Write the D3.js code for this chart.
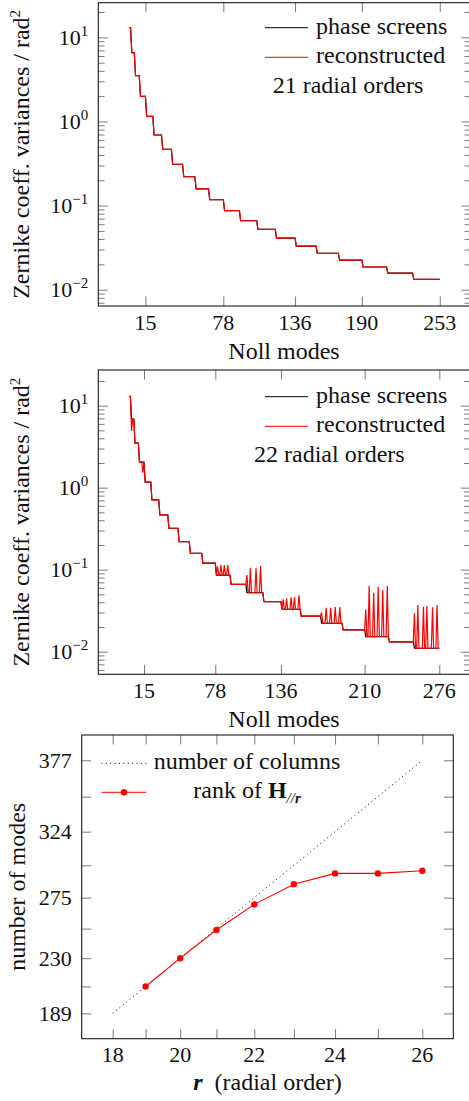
<!DOCTYPE html>
<html>
<head>
<meta charset="utf-8">
<script src="https://cdn.jsdelivr.net/npm/d3@7"></script>
<style>
  body { margin: 0; background: #fff; }
  .tick line { stroke: #7a7a7a; stroke-width: 1; }
  .frame { fill: none; stroke: #1a1a1a; stroke-width: 1.1; }
</style>
</head>
<body>
<div id="chart"></div>
<script>
// x tick values (Noll mode numbers) of the two variance plots
const nollTicks21 = [15, 78, 136, 190, 253];
const nollTicks22 = [15, 78, 136, 210, 276];
const decades = [1e-2, 1e-1, 1e0, 1e1];

// variance level of each radial order n = 1..21
const screens21 = [13.0, 6.6, 3.5, 1.99, 1.15, 0.69, 0.465, 0.31, 0.22, 0.158, 0.118,
    0.087, 0.066, 0.052, 0.041, 0.033, 0.027, 0.0225, 0.0186, 0.0157, 0.0133];
const recon21 = [13.0, 6.6, 3.5, 1.99, 1.15, 0.69, 0.465, 0.31, 0.22, 0.158, 0.118,
    0.087, 0.066, 0.052, 0.041, 0.033, 0.027, 0.0225, 0.0186, 0.0157, 0.0133];

// same for n = 1..22
const screens22 = [13.0, 6.86, 3.5, 2.05, 1.17, 0.708, 0.465, 0.32, 0.22, 0.158, 0.12,
    0.086, 0.066, 0.0524, 0.0407, 0.0329, 0.0272, 0.0222, 0.0184, 0.0152, 0.0132, 0.011];
// modes where the 22-order reconstruction leaves the phase screen level
const spikeModes22 = [4, 14, 80, 83, 86, 89, 106, 109, 114, 118, 138, 141, 145, 148, 152,
    172, 176, 180, 184, 188, 211, 214, 218, 222, 226, 230, 254, 257, 262, 265, 270, 274];
const spikeValues22 = [4.9, 1.52, 0.11, 0.114, 0.114, 0.114, 0.086, 0.104, 0.104, 0.111,
    0.0436, 0.0448, 0.046, 0.046, 0.0487, 0.030, 0.0344, 0.0344, 0.035, 0.035,
    0.0329, 0.063, 0.0524, 0.062, 0.0565, 0.063, 0.0294, 0.037, 0.0354, 0.036, 0.0348, 0.037];

// rank plot
const radialOrders = [18, 19, 20, 21, 22, 23, 24, 25, 26];
const numColumns = [189, 209, 230, 252, 275, 299, 324, 350, 377];
const rankOrders = [19, 20, 21, 22, 23, 24, 25, 26];
const rankValues = [209, 230, 251, 270, 285, 293, 293, 295];

const width = 469;
const height = 1101;
const tickLen = 9.5;
const minorLen = 6.3;
const fontSize = 22;
const textSize = 24;

const svg = d3.select("#chart")
    .append("svg")
    .attr("width", width)
    .attr("height", height)
    .style("display", "block");

// Noll ordering: radial order n covers modes n(n+1)/2+1 .. (n+1)(n+2)/2
const toModes = levels => levels.flatMap((v, i) => {
    const n = i + 1;
    return d3.range(n * (n + 1) / 2 + 1, (n + 1) * (n + 2) / 2 + 1).map(m => [m, v]);
});

const applySpikes = (points, modes, values) => points.map(([m, v]) => {
    const k = modes.indexOf(m);
    return [m, k < 0 ? v : values[k]];
});

const addText = (x, y, anchor, size = fontSize) => svg.append("text")
    .attr("font-family", "Liberation Serif")
    .attr("font-size", size)
    .attr("fill", "#111")
    .attr("x", x)
    .attr("y", y)
    .attr("text-anchor", anchor);

const addPower = (x, y, exp) => {
    const t = addText(x, y, "end");
    t.append("tspan").text("10");
    t.append("tspan").attr("dy", -9).attr("font-size", 15).text(exp);
};

const addAxisTicks = (axis, transform) => {
    const g = svg.append("g").attr("transform", transform).call(axis);
    g.select(".domain").remove();
    g.selectAll("text").remove();
};

const addYLabel = (x, y, fn) => {
    const t = svg.append("text")
        .attr("font-family", "Liberation Serif")
        .attr("font-size", textSize)
        .attr("fill", "#111")
        .attr("transform", `translate(${x},${y}) rotate(-90)`)
        .attr("text-anchor", "middle");
    fn(t);
};

const addLegendLine = (x1, x2, y, color, dash) => {
    svg.append("line")
        .attr("x1", x1).attr("x2", x2)
        .attr("y1", y).attr("y2", y)
        .attr("stroke", color)
        .attr("stroke-width", 1)
        .attr("stroke-dasharray", dash);
};

const drawNollPanel = p => {
    const x = d3.scaleLinear().domain(p.xDomain).range([p.left, p.right]);
    const y = d3.scaleLog().domain(p.yDomain).range([p.bottom, p.top]);

    const minor = [];
    decades.concat([1e-3]).forEach(d => d3.range(2, 10).forEach(j => {
        const v = j * d;
        if (v > p.yDomain[0] && v < p.yDomain[1]) minor.push(v);
    }));

    addAxisTicks(d3.axisBottom(x).tickValues(p.xTicks).tickSize(-tickLen), `translate(0,${p.bottom})`);
    addAxisTicks(d3.axisTop(x).tickValues(p.xTicks).tickSize(-tickLen), `translate(0,${p.top})`);
    addAxisTicks(d3.axisLeft(y).tickValues(decades).tickSize(-tickLen), `translate(${p.left},0)`);
    addAxisTicks(d3.axisRight(y).tickValues(decades).tickSize(-tickLen), `translate(${p.right},0)`);
    addAxisTicks(d3.axisLeft(y).tickValues(minor).tickSize(-minorLen), `translate(${p.left},0)`);
    addAxisTicks(d3.axisRight(y).tickValues(minor).tickSize(-minorLen), `translate(${p.right},0)`);

    p.xTicks.forEach(t => addText(x(t), p.bottom + 23.5, "middle").text(t));
    decades.forEach(d => addPower(p.left - 10, y(d) + 7.5, d3.format("d")(Math.log10(d)).replace("-", "\u2212")));

    const line = d3.line().x(d => x(d[0])).y(d => y(d[1]));
    svg.append("path")
        .attr("d", line(p.screens))
        .attr("fill", "none")
        .attr("stroke", "#000")
        .attr("stroke-width", 1.2);
    svg.append("path")
        .attr("d", line(p.recon))
        .attr("fill", "none")
        .attr("stroke", "#ff0000")
        .attr("stroke-width", 1.2);

    svg.append("rect")
        .attr("class", "frame")
        .attr("x", p.left).attr("y", p.top)
        .attr("width", p.right - p.left).attr("height", p.bottom - p.top);

    // legend
    addLegendLine(265, 308, p.legendY, "#000");
    addText(316, p.legendY + 6.5, "start", textSize).text("phase screens");
    addLegendLine(265, 308, p.legendY + 29.6, "#ff0000");
    addText(316, p.legendY + 35.6, "start", textSize).text("reconstructed");
    addText(p.noteX, p.legendY + 65, "start", textSize).text(p.note);

    addText(284, p.bottom + 52.7, "middle", textSize).text("Noll modes");
    addYLabel(28.5, (p.top + p.bottom) / 2, t => {
        t.append("tspan").text("Zernike coeff. variances / rad");
        t.append("tspan").attr("dy", -9).attr("font-size", 15).text("2");
    });
};

const modes21 = toModes(screens21);
drawNollPanel({
    left: 98.3, right: 470.8, top: 2.7, bottom: 306,
    xDomain: [-23.1, 278.1],
    yDomain: [Math.pow(10, -2.194), Math.pow(10, 1.412)],
    xTicks: nollTicks21,
    screens: modes21,
    recon: toModes(recon21),
    legendY: 27.7,
    noteX: 272.7,
    note: "21 radial orders"
});

const modes22 = toModes(screens22);
drawNollPanel({
    left: 98.3, right: 470.3, top: 370, bottom: 674.3,
    xDomain: [-25.4, 303.4],
    yDomain: [Math.pow(10, -2.276), Math.pow(10, 1.435)],
    xTicks: nollTicks22,
    screens: modes22,
    recon: applySpikes(modes22, spikeModes22, spikeValues22),
    legendY: 396.7,
    noteX: 254,
    note: "22 radial orders"
});

// rank panel: both axes are in "number of columns" units, labelled by radial order
const rp = { left: 81.7, right: 453.3, top: 735, bottom: 1038.7 };
const rx = d3.scaleLinear().domain([170.2, 395.8]).range([rp.left, rp.right]);
const ry = d3.scaleLinear().domain([170.2, 395.8]).range([rp.bottom, rp.top]);
const colOf = r => numColumns[radialOrders.indexOf(r)];

addAxisTicks(d3.axisBottom(rx).tickValues(numColumns).tickSize(-tickLen), `translate(0,${rp.bottom})`);
addAxisTicks(d3.axisTop(rx).tickValues(numColumns).tickSize(-tickLen), `translate(0,${rp.top})`);
addAxisTicks(d3.axisLeft(ry).tickValues(numColumns).tickSize(-tickLen), `translate(${rp.left},0)`);
addAxisTicks(d3.axisRight(ry).tickValues(numColumns).tickSize(-tickLen), `translate(${rp.right},0)`);

radialOrders.forEach((r, i) => {
    if (r % 2 !== 0) return;
    addText(rx(numColumns[i]), rp.bottom + 23.5, "middle").text(r);
    addText(rp.left - 10, ry(numColumns[i]) + 7.5, "end").text(numColumns[i]);
});

svg.append("path")
    .attr("d", d3.line().x(d => rx(d)).y(d => ry(d))(numColumns))
    .attr("fill", "none")
    .attr("stroke", "#000")
    .attr("stroke-width", 1)
    .attr("stroke-dasharray", "1,3.4");

const rankPts = rankOrders.map((r, i) => [colOf(r), rankValues[i]]);
svg.append("path")
    .attr("d", d3.line().x(d => rx(d[0])).y(d => ry(d[1]))(rankPts))
    .attr("fill", "none")
    .attr("stroke", "#ff0000")
    .attr("stroke-width", 1.1);
svg.selectAll(".rank-dot")
    .data(rankPts)
    .join("circle")
    .attr("cx", d => rx(d[0]))
    .attr("cy", d => ry(d[1]))
    .attr("r", 3.2)
    .attr("fill", "#ff0000");

svg.append("rect")
    .attr("class", "frame")
    .attr("x", rp.left).attr("y", rp.top)
    .attr("width", rp.right - rp.left).attr("height", rp.bottom - rp.top);

addLegendLine(101.3, 146.3, 763.3, "#000", "1,3.4");
addText(247, 769.3, "middle", textSize).text("number of columns");
addLegendLine(101.3, 146.3, 792.3, "#ff0000");
svg.append("circle").attr("cx", 124).attr("cy", 792.3).attr("r", 3.2).attr("fill", "#ff0000");
const rankLabel = addText(247, 798.3, "middle", textSize);
rankLabel.append("tspan").text("rank of ");
rankLabel.append("tspan").attr("font-weight", "bold").text("H");
rankLabel.append("tspan").attr("dy", 5).attr("font-size", 15).attr("font-style", "italic").text("//");
rankLabel.append("tspan").attr("font-size", 15).attr("font-style", "italic").attr("font-weight", "bold").text("r");

const rLabel = addText((rp.left + rp.right) / 2, 1090, "middle", textSize);
rLabel.append("tspan").attr("font-style", "italic").attr("font-weight", "bold").text("r");
rLabel.append("tspan").text("\u2002(radial order)");

addYLabel(25, (rp.top + rp.bottom) / 2, t => t.text("number of modes"));
</script>
</body>
</html>
